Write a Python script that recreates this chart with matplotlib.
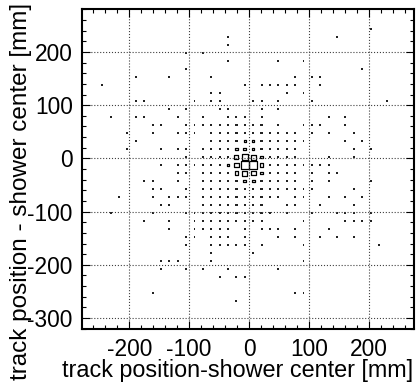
import matplotlib
matplotlib.use('Agg')
import matplotlib.pyplot as plt
from matplotlib.patches import Rectangle
from matplotlib.collections import PatchCollection
from matplotlib.ticker import MultipleLocator
import numpy as np

plt.rcParams['font.family'] = ['Liberation Sans', 'DejaVu Sans']
plt.rcParams['axes.unicode_minus'] = False

# histogram binning (mm)
x_lo, x_hi, nx = -280, 280, 40
y_lo, y_hi, ny = -320, 280, 40

# occupied bins: y-bin index -> list of x-bin indices (content 1 unless listed below)
rows = {
    37: [34],
    36: [17, 30],
    35: [17],
    34: [12, 14],
    33: [17, 23, 26],
    32: [12, 33],
    31: [6, 10, 15, 25, 27, 28],
    30: [2, 19, 21, 22, 23, 24, 25, 28],
    29: [15, 16, 24, 26],
    28: [6, 7, 13, 15, 16, 20, 21, 23, 27, 36],
    27: [10, 12, 16, 17, 21, 23],
    26: [3, 6, 7, 11, 14, 17, 18, 19, 21, 29, 31],
    25: [8, 9, 12, 13, 14, 15, 16, 17, 18, 19, 20, 21, 23, 26, 27, 28, 31],
    24: [5, 8, 11, 12, 13, 15, 16, 17, 18, 19, 20, 21, 22, 23, 24, 25, 27, 29, 32],
    23: [6, 15, 16, 17, 18, 19, 20, 21, 22, 23, 24, 25, 26, 31, 33],
    22: [5, 9, 11, 12, 14, 15, 16, 17, 18, 19, 20, 21, 22, 23, 24, 25, 32, 34],
    21: [12, 14, 15, 16, 17, 18, 19, 20, 21, 22, 23, 24, 25, 29, 32],
    20: [9, 11, 12, 13, 14, 15, 16, 17, 18, 19, 20, 21, 22, 23, 24, 25, 26, 27, 28, 29],
    19: [11, 12, 14, 15, 16, 17, 18, 19, 20, 21, 22, 23, 24, 25, 27, 29, 30],
    18: [7, 8, 11, 14, 15, 16, 17, 18, 19, 20, 21, 22, 23, 24, 25, 27, 29, 34],
    17: [8, 9, 12, 14, 15, 16, 17, 18, 19, 20, 21, 22, 23, 24, 25, 26, 27, 32],
    16: [4, 8, 10, 11, 12, 14, 15, 16, 17, 18, 19, 20, 21, 22, 23, 25, 26, 29, 31, 33],
    15: [9, 10, 14, 15, 16, 17, 18, 19, 20, 21, 24, 25, 28, 32],
    14: [3, 8, 12, 13, 14, 15, 16, 17, 18, 19, 20, 21, 22, 24, 27, 30, 31, 32, 34],
    13: [7, 10, 13, 14, 15, 16, 17, 18, 19, 20, 21, 26, 31, 32, 33, 34],
    12: [10, 13, 14, 15, 16, 17, 19, 21, 22, 23, 25, 29],
    11: [12, 13, 15, 16, 17, 19, 23, 25, 28, 30, 32],
    10: [12, 15, 16, 17, 18, 19, 21, 26, 35],
    9: [15, 20],
    8: [9, 10, 11, 15, 26],
    7: [9, 12, 14, 17, 23],
    6: [16, 18, 19],
    4: [8, 25, 26],
    3: [18],
}

# bins with larger content near the shower centre: (x-bin, y-bin) -> content
counts = {
    (19, 20): 100, (20, 20): 95,
    (18, 21): 22, (19, 21): 42, (20, 21): 40, (21, 21): 12,
    (17, 20): 9, (18, 20): 26, (21, 20): 16,
    (18, 19): 20, (19, 19): 40, (20, 19): 34, (21, 19): 12,
    (19, 18): 10, (20, 18): 10,
    (18, 22): 9, (19, 22): 10, (20, 22): 9,
    (19, 23): 5, (20, 23): 5,
}

bw_x = (x_hi - x_lo) / nx
bw_y = (y_hi - y_lo) / ny

xs, ys, cs = [], [], []
for j, cols in rows.items():
    for k in cols:
        c = counts.get((k, j), 2 if (14 <= k <= 25 and 14 <= j <= 25) else 1)
        xs.append(x_lo + (k + 0.5) * bw_x)
        ys.append(y_lo + (j + 0.5) * bw_y)
        cs.append(c)
xs = np.array(xs)
ys = np.array(ys)
cs = np.array(cs, dtype=float)

fig = plt.figure(figsize=(4.2, 3.84), dpi=100)
ax = fig.add_axes([0.195, 0.144, 0.790, 0.833])

# low-content bins look like dots, the rest as open boxes (area ~ content)
small = cs <= 2
ax.scatter(xs[small], ys[small], marker='s', s=np.where(cs[small] > 1, 2.6, 1.8),
           c='#222222', linewidths=0, antialiased=False)

frac = np.sqrt(cs / cs.max())
boxes = []
for x, y, f in zip(xs[~small], ys[~small], frac[~small]):
    w = bw_x * f
    h = bw_y * f
    boxes.append(Rectangle((x - w / 2, y - h / 2), w, h))
ax.add_collection(PatchCollection(boxes, facecolor='none', edgecolor='black', linewidth=0.9))

ax.set_xlim(-279, 275)
ax.set_ylim(-320, 281)
ax.set_xticks([-200, -100, 0, 100, 200])
ax.set_yticks([-300, -200, -100, 0, 100, 200])
ax.xaxis.set_minor_locator(MultipleLocator(20))
ax.yaxis.set_minor_locator(MultipleLocator(20))
ax.tick_params(which='both', direction='in', top=True, right=True, width=0.8)
ax.tick_params(which='major', length=5.8, labelsize=16.4)
ax.tick_params(which='minor', length=2.9)
ax.tick_params(axis='x', pad=6.5)
ax.tick_params(axis='y', pad=6.5)
ax.grid(True, which='major', linestyle=':', color='0.25', linewidth=0.8)
for s in ax.spines.values():
    s.set_linewidth(1.5)

fig.text(413 / 420, 1 - 371 / 384, 'track position-shower center [mm]',
         ha='right', va='center', fontsize=16.8)
fig.text(21 / 420, 1 - 3 / 384, 'track position - shower center [mm]',
         ha='center', va='top', rotation=90, fontsize=17.5)

fig.savefig('out.png', dpi=100)
